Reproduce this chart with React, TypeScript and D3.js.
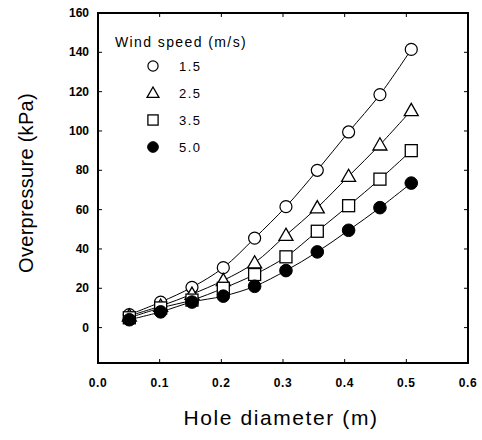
import React from "react";
import * as d3 from "d3";

const holeDiameter = [0.0508, 0.1016, 0.1524, 0.2032, 0.254, 0.3048, 0.3556, 0.4064, 0.4572, 0.508];
const ws15 = [6.6, 13, 20.5, 30.5, 45.5, 61.5, 80, 99.5, 118.5, 141.5];
const ws25 = [6, 11, 17, 24, 33, 47, 61, 77, 93, 110.5];
const ws35 = [5, 10, 14, 20, 27, 36, 49, 62, 75.5, 90];
const ws50 = [4, 8, 13, 16, 21, 29, 38.5, 49.5, 61, 73.5];
const seriesNames = ["1.5", "2.5", "3.5", "5.0"];
const markerTypes = ["circle", "triangle", "square", "filled"];
const xTicks = [0, 0.1, 0.2, 0.3, 0.4, 0.5, 0.6];
const yTicks = [0, 20, 40, 60, 80, 100, 120, 140, 160];

const W = 482, H = 440;
const left = 98, right = 468, top = 13, bottom = 363;
const FONT = "'Liberation Sans', Arial, sans-serif";

function Marker({ type, x, y, s = 1 }: { type: string; x: number; y: number; s?: number }) {
  if (type === "circle")
    return <circle cx={x} cy={y} r={6 * s} fill="white" stroke="black" strokeWidth={1.2} />;
  if (type === "filled")
    return <circle cx={x} cy={y} r={6.3 * s} fill="black" stroke="black" strokeWidth={1} />;
  if (type === "square")
    return <rect x={x - 6 * s} y={y - 6 * s} width={12 * s} height={12 * s} fill="white" stroke="black" strokeWidth={1.3} />;
  const h = 7 * s;
  return (
    <path
      d={`M${x},${y - h}L${x + h},${y + h * 0.75}L${x - h},${y + h * 0.75}Z`}
      fill="white"
      stroke="black"
      strokeWidth={1.3}
    />
  );
}

export default function App() {
  const x = d3.scaleLinear().domain([0, 0.6]).range([left, right]);
  const y = d3.scaleLinear().domain([-18, 160]).range([bottom, top]);
  const allSeries = [ws15, ws25, ws35, ws50];
  const line = d3
    .line<number>()
    .x((_, i) => x(holeDiameter[i]))
    .y((d) => y(d))
    .curve(d3.curveCatmullRom);

  return (
    <svg width={W} height={H} style={{ display: "block", position: "absolute", left: 0, top: 0 }}>
      <rect x={0} y={0} width={W} height={H} fill="white" />
      {allSeries.map((s, k) => (
        <path key={"l" + k} d={line(s) || ""} fill="none" stroke="black" strokeWidth={1} />
      ))}
      {allSeries.map((s, k) =>
        s.map((v, i) => <Marker key={k + "-" + i} type={markerTypes[k]} x={x(holeDiameter[i])} y={y(v)} />)
      )}
      <rect x={left} y={top} width={right - left} height={bottom - top} fill="none" stroke="black" strokeWidth={2} />
      {xTicks.map((t) => (
        <g key={"xt" + t}>
          <line x1={x(t)} x2={x(t)} y1={bottom} y2={bottom - 4} stroke="black" />
          <line x1={x(t)} x2={x(t)} y1={top} y2={top + 4} stroke="black" />
          <text x={x(t)} y={bottom + 24} textAnchor="middle" fontFamily={FONT} fontSize={12} fontWeight="bold" letterSpacing={0.6}>
            {d3.format(".1f")(t)}
          </text>
        </g>
      ))}
      {yTicks.map((t) => (
        <g key={"yt" + t}>
          <line x1={left} x2={left + 4} y1={y(t)} y2={y(t)} stroke="black" />
          <line x1={right} x2={right - 4} y1={y(t)} y2={y(t)} stroke="black" />
          <text x={left - 9} y={y(t) + 4} textAnchor="end" fontFamily={FONT} fontSize={12} fontWeight="bold">
            {t}
          </text>
        </g>
      ))}
      <text x={281} y={425} textAnchor="middle" fontFamily={FONT} fontSize={21} letterSpacing={1.6}>
        Hole diameter (m)
      </text>
      <text
        transform={`translate(33,183) rotate(-90)`}
        textAnchor="middle"
        fontFamily={FONT}
        fontSize={20}
        letterSpacing={0.3}
      >
        Overpressure (kPa)
      </text>
      <text x={115} y={47} fontFamily={FONT} fontSize={14} letterSpacing={1.4}>
        Wind speed (m/s)
      </text>
      {seriesNames.map((n, k) => (
        <g key={"lg" + k}>
          <Marker type={markerTypes[k]} x={153} y={66 + k * 27} s={0.85} />
          <text x={179} y={66 + k * 27 + 5} fontFamily={FONT} fontSize={13} letterSpacing={1.5}>
            {n}
          </text>
        </g>
      ))}
    </svg>
  );
}
